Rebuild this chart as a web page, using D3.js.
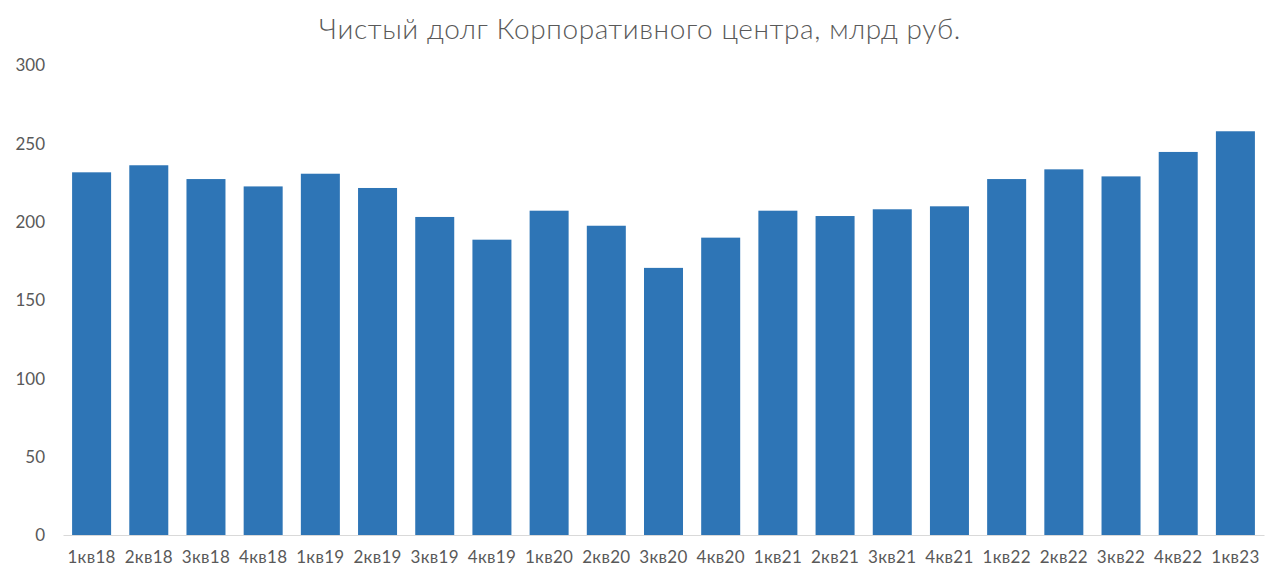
<!DOCTYPE html>
<html><head><meta charset="utf-8">
<script src="https://cdn.jsdelivr.net/npm/d3@7"></script>
<style>html,body{margin:0;padding:0;background:#fff;}svg{display:block;}</style>
</head><body>
<script>
const categories = ["1кв18","2кв18","3кв18","4кв18","1кв19","2кв19","3кв19","4кв19","1кв20","2кв20","3кв20","4кв20","1кв21","2кв21","3кв21","4кв21","1кв22","2кв22","3кв22","4кв22","1кв23"];
const values = [231.5,236,227.2,222.5,230.6,221.5,203,188.5,207,197.4,170.5,189.8,207,203.6,207.9,209.8,227.2,233.4,228.9,244.5,257.7];
const yTicks = [0,50,100,150,200,250,300];
const title = "Чистый долг Корпоративного центра, млрд руб.";

const W = 1280, H = 582;
const font = "Lato, 'Open Sans', sans-serif";
const svg = d3.select("body").append("svg").attr("width", W).attr("height", H);
const x = d3.scaleBand().domain(categories).range([63, 1264]).paddingInner(0.318).paddingOuter(0.159);
const y = d3.scaleLinear().domain([0, 300]).range([535, 65]);

svg.append("text").attr("x", 640).attr("y", 39).attr("text-anchor", "middle")
  .attr("font-family", font).attr("font-weight", 300).attr("font-size", 28).attr("letter-spacing", "0.6px")
  .attr("fill", "#595959").text(title);

const ya = svg.append("g").attr("transform", "translate(45,0)")
  .call(d3.axisLeft(y).tickValues(yTicks).tickSize(0).tickPadding(0));
ya.select(".domain").remove();
ya.selectAll("text").attr("font-family", font).attr("font-size", 17).attr("fill", "#595959").attr("dy", "0.35em");

svg.selectAll("rect.bar").data(values).join("rect").attr("class", "bar")
  .attr("x", (d, i) => x(categories[i])).attr("width", x.bandwidth())
  .attr("y", d => y(d)).attr("height", d => y(0) - y(d)).attr("fill", "#2E75B6");

const xa = svg.append("g").attr("transform", "translate(0,535)")
  .call(d3.axisBottom(x).tickSize(0).tickPadding(16));
xa.select(".domain").attr("stroke", "#D9D9D9").attr("stroke-width", 1);
xa.selectAll("text").attr("font-family", font).attr("font-size", 17).attr("letter-spacing", "0.3px").attr("fill", "#595959");
</script>
</body></html>
